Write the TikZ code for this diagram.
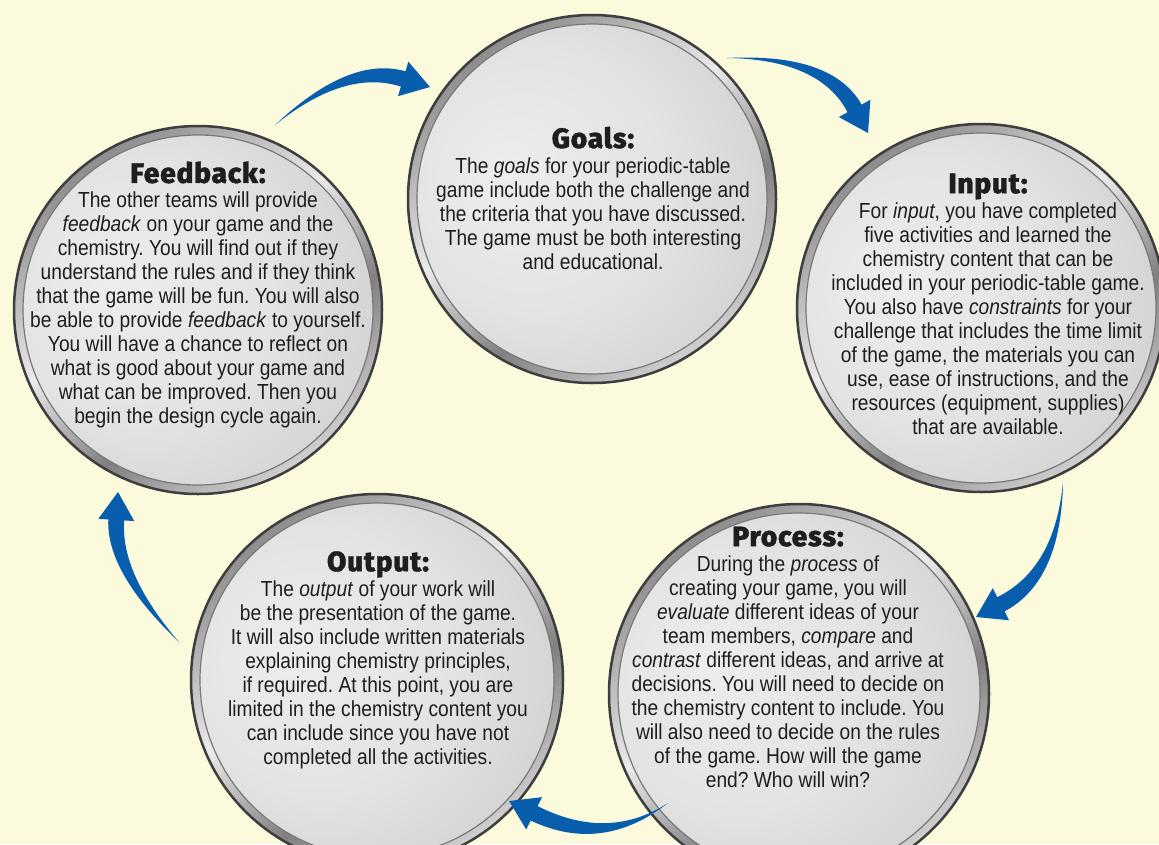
\documentclass[tikz,border=0pt]{standalone}
\usepackage{fontspec}
\setmainfont{Liberation Sans}[FakeStretch=0.88]
\newfontfamily\headfont{Fira Sans ExtraBold}[FakeBold=1.3,LetterSpace=3]
\usetikzlibrary{calc}
\definecolor{paper}{RGB}{252,250,221}
\definecolor{cycleblue}{RGB}{8,94,173}
\definecolor{rimdark}{RGB}{62,62,62}
\definecolor{rimline}{RGB}{120,120,120}
\definecolor{ink}{RGB}{30,30,30}
\pgfdeclareradialshading{silver}{\pgfpoint{-8bp}{10bp}}{color(0bp)=(white!93!black); color(18bp)=(white!89!black); color(36bp)=(white!80!black); color(46bp)=(white!71!black); color(50bp)=(white!66!black)}
\pgfdeclareverticalshading{rimband}{100bp}{color(0bp)=(white!35!black); color(22bp)=(white!88!black); color(40bp)=(white!50!black); color(55bp)=(white!92!black); color(75bp)=(white!55!black); color(100bp)=(white!30!black)}

% tapered blue arrow: tail, bend, tip
\newcommand{\cyclearrow}[3]{%
  \coordinate (t) at (#1); \coordinate (c) at (#2); \coordinate (p) at (#3);
  \coordinate (h) at ($(p)!28pt!(c)$);
  \coordinate (co) at ($(c)!7pt!90:(h)$);
  \coordinate (ci) at ($(c)!7pt!-90:(h)$);
  \coordinate (ho) at ($(h)!8pt!90:(p)$);
  \coordinate (hi) at ($(h)!8pt!-90:(p)$);
  \coordinate (bo) at ($(h)!18pt!90:(p)$);
  \coordinate (bi) at ($(h)!18pt!-90:(p)$);
  \fill[cycleblue] (t) .. controls ($(t)!2/3!(co)$) and ($(ho)!2/3!(co)$) .. (ho) -- (bo) -- (p) -- (bi) -- (hi)
     .. controls ($(hi)!2/3!(ci)$) and ($(t)!2/3!(ci)$) .. (t) -- cycle;
}

\begin{document}
\frenchspacing
\begin{tikzpicture}[x=1pt,y=-1pt]
\tikzset{
  disc/.style={circle, inner sep=0pt, minimum size=#1, draw=rimdark, line width=2.5pt,
    shading=rimband, shading angle=35,
    path picture={\path[shading=silver, draw=rimline, line width=1.2pt]
      (path picture bounding box.center) circle ({#1/2-9pt});}},
  note/.style={align=center, text=ink, font=\fontsize{21.8}{24}\selectfont},
}
\newcommand{\head}[1]{{\headfont\fontsize{28}{28}\selectfont #1}\\[1pt]}

\fill[paper] (0,0) rectangle (1159,844);
\useasboundingbox (0,0) rectangle (1159,844);

% the five stages
\node[disc=368pt] (goals) at (592,199) {};
\node[disc=368pt] (input) at (981,308) {};
\node[disc=380pt] (process) at (799,694) {};
\node[disc=372pt] (output) at (377,680) {};
\node[disc=368pt] (feedback) at (198,310) {};

\node[note] (goalstxt) at (593,198) {\head{Goals:}
The \textit{goals} for your periodic-table\\
game include both the challenge and\\
the criteria that you have discussed.\\
The game must be both interesting\\
and educational.};

\node[note] (inputtxt) at (988,304) {\head{Input:}
For \textit{input}, you have completed\\
five activities and learned the\\
chemistry content that can be\\
included in your periodic-table game.\\
You also have \textit{constraints} for your\\
challenge that includes the time limit\\
of the game, the materials you can\\
use, ease of instructions, and the\\
resources (equipment, supplies)\\
that are available.};

\node[note] (processtxt) at (788,657) {\head{Process:}
During the \textit{process} of\\
creating your game, you will\\
\textit{evaluate} different ideas of your\\
team members, \textit{compare} and\\
\textit{contrast} different ideas, and arrive at\\
decisions. You will need to decide on\\
the chemistry content to include. You\\
will also need to decide on the rules\\
of the game. How will the game\\
end? Who will win?};

\node[note] (outputtxt) at (378,660) {\head{Output:}
The \textit{output} of your work will\\
be the presentation of the game.\\
It will also include written materials\\
explaining chemistry principles,\\
if required. At this point, you are\\
limited in the chemistry content you\\
can include since you have not\\
completed all the activities.};

\node[note] (feedbacktxt) at (198,295) {\head{Feedback:}
The other teams will provide\\
\textit{feedback} on your game and the\\
chemistry. You will find out if they\\
understand the rules and if they think\\
that the game will be fun. You will also\\
be able to provide \textit{feedback} to yourself.\\
You will have a chance to reflect on\\
what is good about your game and\\
what can be improved. Then you\\
begin the design cycle again.};

% arrows round the cycle
\cyclearrow{275,125}{347,62}{430,87}
\cyclearrow{727,58}{826,56}{868,133}
\cyclearrow{1063,482}{1058,575}{976,617}
\cyclearrow{668,803}{605,848}{509,801}
\cyclearrow{179,642}{113,573}{118,492}

\end{tikzpicture}
\end{document}
